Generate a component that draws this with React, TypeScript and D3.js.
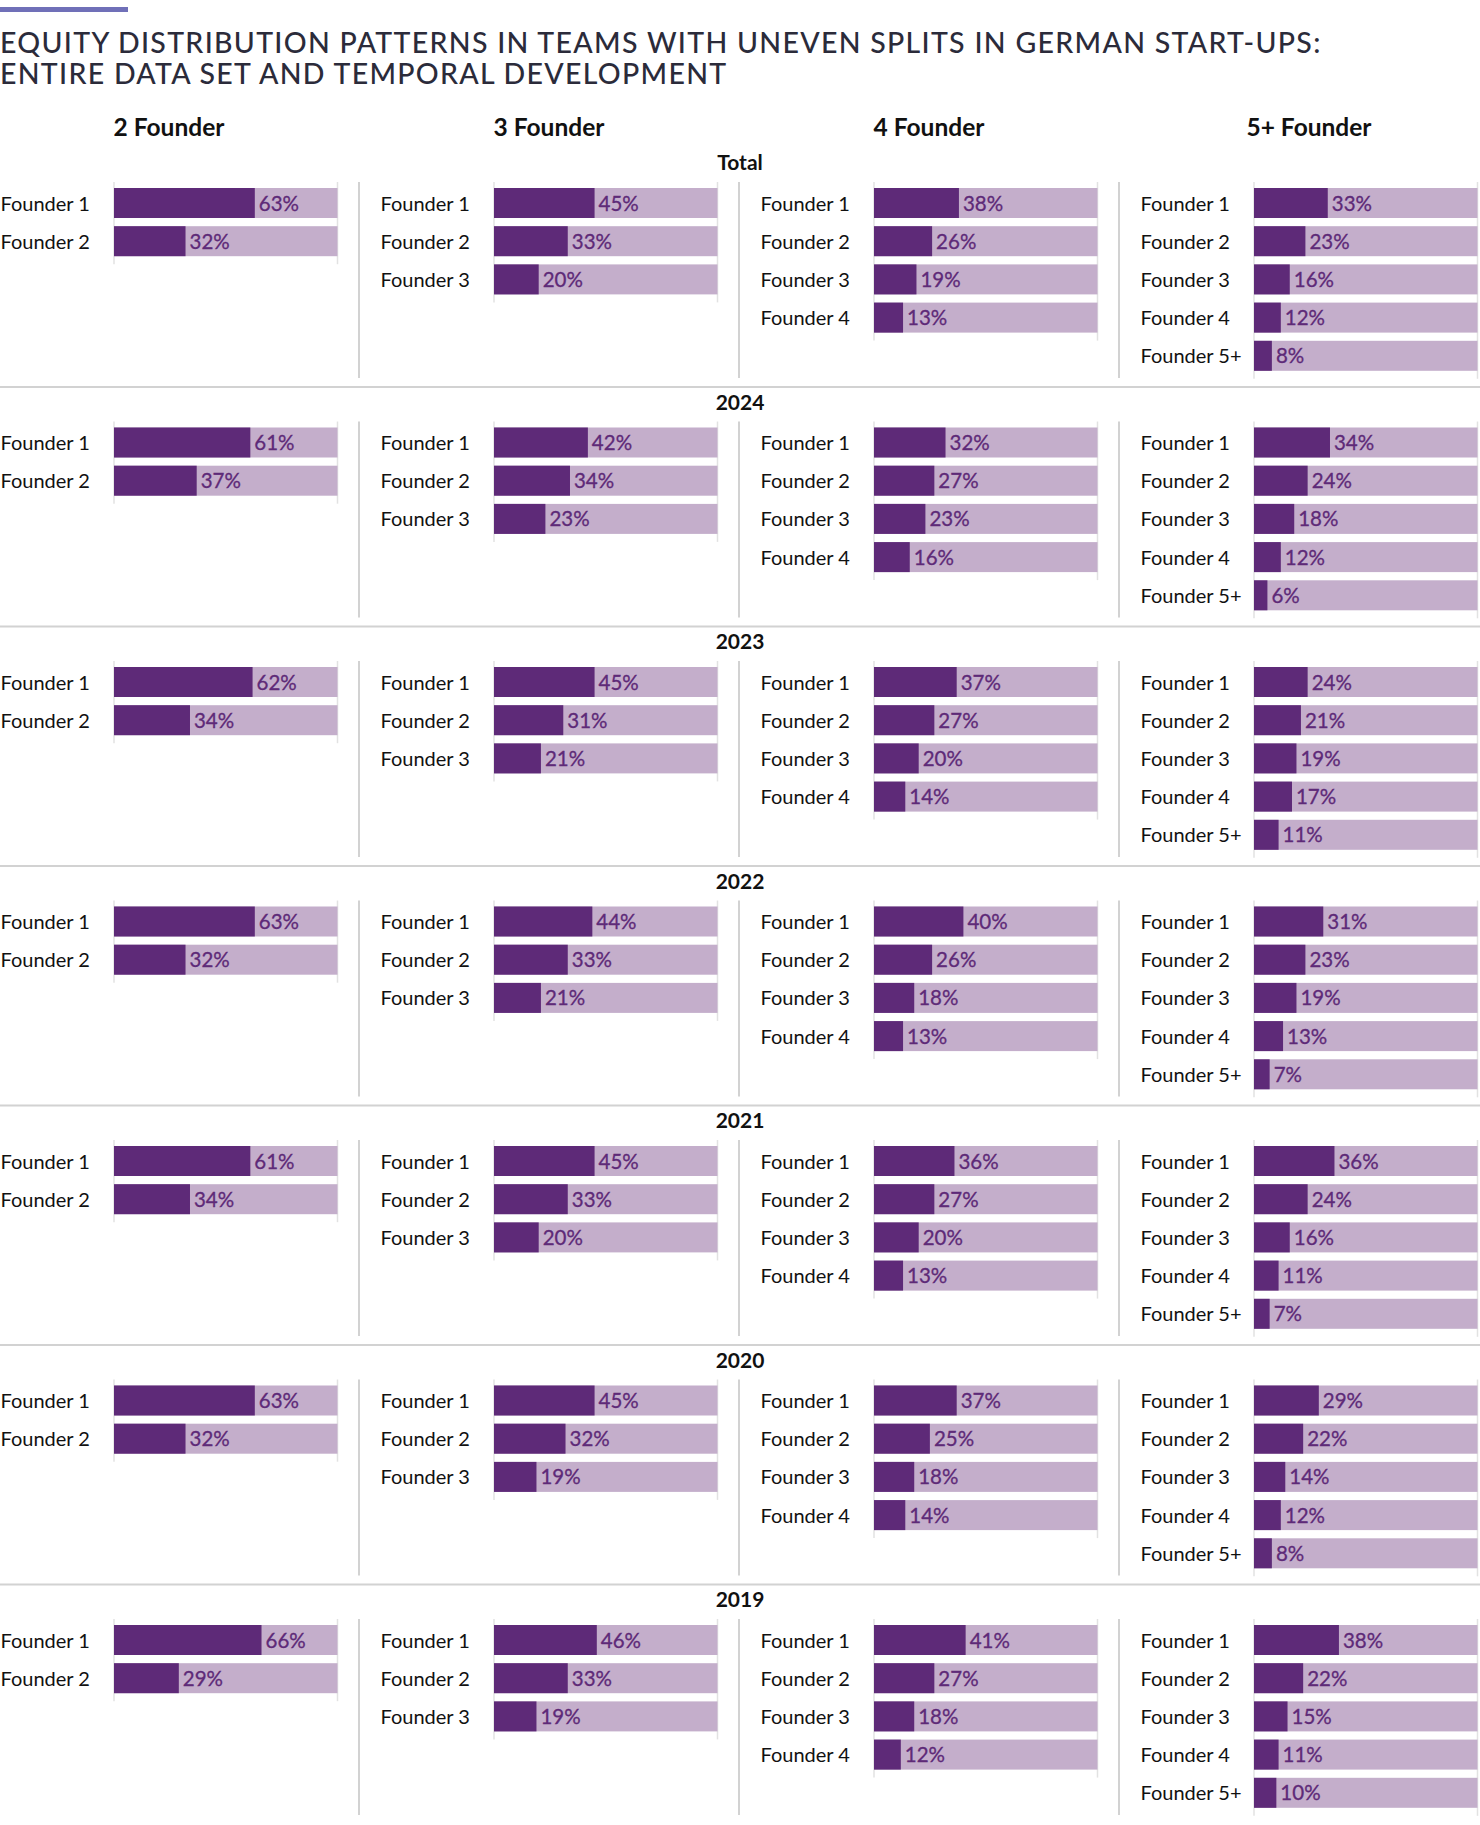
import * as d3 from "d3";

/* ------------------------------------------------------------------ */
/*  Data                                                              */
/* ------------------------------------------------------------------ */

const SECTIONS = ["Total", "2024", "2023", "2022", "2021", "2020", "2019"];
const TEAM_HEADERS = ["2 Founder", "3 Founder", "4 Founder", "5+ Founder"];
const FOUNDER_LABELS = ["Founder 1", "Founder 2", "Founder 3", "Founder 4", "Founder 5+"];

// one inner array per section (Total, 2024 ... 2019), values in %
const twoFounder = [
  [63, 32], [61, 37], [62, 34], [63, 32], [61, 34], [63, 32], [66, 29],
];
const threeFounder = [
  [45, 33, 20], [42, 34, 23], [45, 31, 21], [44, 33, 21],
  [45, 33, 20], [45, 32, 19], [46, 33, 19],
];
const fourFounder = [
  [38, 26, 19, 13], [32, 27, 23, 16], [37, 27, 20, 14], [40, 26, 18, 13],
  [36, 27, 20, 13], [37, 25, 18, 14], [41, 27, 18, 12],
];
const fivePlusFounder = [
  [33, 23, 16, 12, 8], [34, 24, 18, 12, 6], [24, 21, 19, 17, 11],
  [31, 23, 19, 13, 7], [36, 24, 16, 11, 7], [29, 22, 14, 12, 8],
  [38, 22, 15, 11, 10],
];

const TEAMS = [twoFounder, threeFounder, fourFounder, fivePlusFounder];

/* ------------------------------------------------------------------ */
/*  Layout                                                            */
/* ------------------------------------------------------------------ */

const W = 1480;
const H = 1825;
const FONT = "Lato, 'Noto Sans', sans-serif";
const DARK = "#5e2a78";
const LIGHT = "#c4aecb";
const GRID = "#e2e2e2";
const RULE = "#d2d2d2";

const ROW_STEP = 38.2;
const BAR_H = 30;

const colX = d3.scaleLinear().domain([0, 1]).range([0, 380]);
const sectionTop = d3.scaleLinear().domain([0, 1]).range([188, 188 + 239.5]);

function Panel({ col, sec, values }: { col: number; sec: number; values: number[] }) {
  const x0 = colX(col) + 114;
  const x = d3.scaleLinear().domain([0, 100]).range([x0, x0 + 223.5]);
  const labels = FOUNDER_LABELS.slice(0, values.length);
  const top = sectionTop(sec);
  const outer = (ROW_STEP - BAR_H) / 2;
  const y = d3
    .scaleBand<string>()
    .domain(labels)
    .range([top - outer, top - outer + labels.length * ROW_STEP])
    .paddingInner((ROW_STEP - BAR_H) / ROW_STEP)
    .paddingOuter(outer / ROW_STEP);

  const gTop = top - 6;
  const gBottom = top + (labels.length - 1) * ROW_STEP + BAR_H + 8;

  return (
    <g>
      {/* 0% and 100% guides */}
      {[0, 100].map((v) => (
        <line key={v} x1={x(v)} x2={x(v)} y1={gTop} y2={gBottom} stroke={GRID} strokeWidth={1.5} />
      ))}
      {labels.map((lab, i) => {
        const by = y(lab) ?? 0;
        return (
          <g key={lab}>
            <text x={colX(col) + 0.5} y={by + 22.5} fontSize={20} fill="#111" fontFamily={FONT}>
              {lab}
            </text>
            <rect x={x(0)} y={by} width={x(100) - x(0)} height={y.bandwidth()} fill={LIGHT} />
            <rect x={x(0)} y={by} width={x(values[i]) - x(0)} height={y.bandwidth()} fill={DARK} />
            <text
              x={x(values[i]) + 4}
              y={by + 22.5}
              fontSize={20.5}
              fill={DARK}
              fontFamily={FONT}
              stroke={DARK}
              strokeWidth={0.3}
            >
              {values[i]}%
            </text>
          </g>
        );
      })}
    </g>
  );
}

export default function App() {
  return (
    <svg
      width={W}
      height={H}
      viewBox={`0 0 ${W} ${H}`}
      style={{ position: "absolute", left: 0, top: 0, background: "#fff" }}
    >
      <rect x={0} y={0} width={W} height={H} fill="#fff" />
      <rect x={0} y={7} width={128} height={5} fill="#7070b8" />

      <g fontFamily={FONT} fill="#2b2b3a" fontSize={28.5} fontWeight={500} letterSpacing={1.3}>
        <text x={0} y={52.5}>EQUITY DISTRIBUTION PATTERNS IN TEAMS WITH UNEVEN SPLITS IN GERMAN START-UPS:</text>
        <text x={0} y={83.5}>ENTIRE DATA SET AND TEMPORAL DEVELOPMENT</text>
      </g>

      {TEAM_HEADERS.map((h, c) => (
        <text
          key={h}
          x={colX(c) + 169}
          y={135.5}
          textAnchor="middle"
          fontFamily={FONT}
          fontWeight={700}
          fontSize={24.5}
          fill="#111"
        >
          {h}
        </text>
      ))}

      {SECTIONS.map((s, si) => {
        const top = sectionTop(si);
        return (
          <g key={s}>
            <text
              x={W / 2}
              y={top - 18}
              textAnchor="middle"
              fontFamily={FONT}
              fontWeight={700}
              fontSize={21}
              fill="#111"
            >
              {s}
            </text>
            {[1, 2, 3].map((c) => (
              <line
                key={c}
                x1={colX(c) - 21}
                x2={colX(c) - 21}
                y1={top - 6}
                y2={top + 190}
                stroke={RULE}
                strokeWidth={2}
              />
            ))}
            {si < SECTIONS.length - 1 && (
              <line x1={0} x2={W} y1={top + 199} y2={top + 199} stroke={RULE} strokeWidth={2} />
            )}
            {TEAMS.map((team, c) => (
              <Panel key={c} col={c} sec={si} values={team[si]} />
            ))}
          </g>
        );
      })}
    </svg>
  );
}
